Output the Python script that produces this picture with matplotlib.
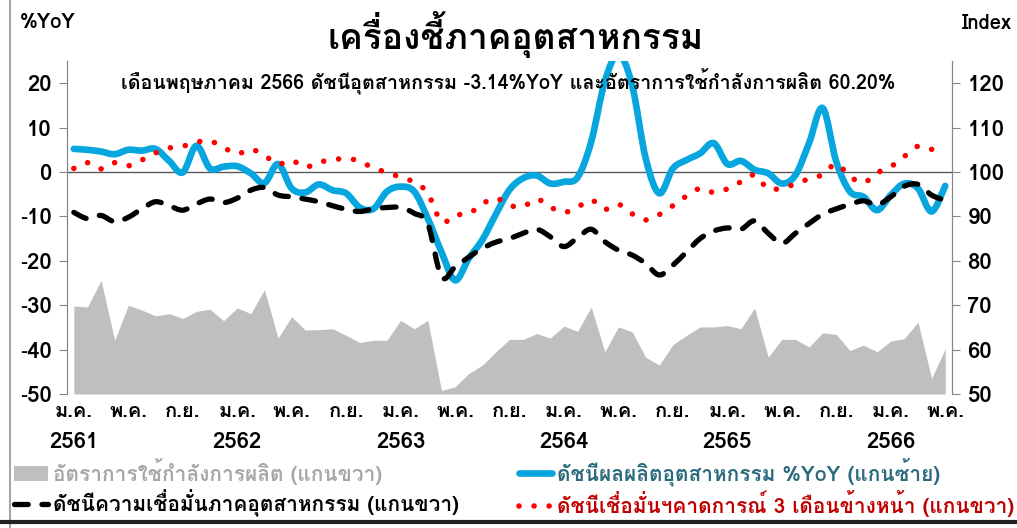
#!/usr/bin/env python3
# -*- coding: utf-8 -*-
"""
Thai industrial indicators chart (Jan 2561 - May 2566).
Left axis: industrial production index %YoY, right axis: index levels.
"""

import matplotlib
matplotlib.use('Agg')
import matplotlib.pyplot as plt
from matplotlib.lines import Line2D
from matplotlib.patches import Patch, PathPatch
from matplotlib.path import Path

# ---- data (monthly, ม.ค. 2561 .. พ.ค. 2566) ----
ipi_yoy = [5.2, 5.0, 4.6, 4.0, 5.0, 4.8, 5.2, 2.5, -0.1, 5.9, 0.8, 1.2,
           1.3, -0.3, -2.5, 1.8, -3.7, -4.6, -2.8, -4.1, -4.8, -8.0, -8.3, -4.4,
           -3.3, -4.4, -10.5, -18.0, -24.4, -19.5, -15.3, -9.5, -4.0, -1.4, -0.8, -2.6,
           -2.2, -1.2, 6.8, 20.4, 26.5, 19.6, 3.1, -4.8, 0.8, 2.7, 4.2, 6.5,
           1.8, 2.5, 0.5, -0.3, -2.6, -0.7, 6.5, 14.4, 2.3, -4.4, -5.6, -8.6,
           -5.2, -2.6, -3.7, -8.9, -3.14]

tisi_ci = [90.9, 89.5, 90.2, 88.8, 89.8, 91.7, 93.3, 92.4, 91.4, 92.8, 93.9, 93.1,
           94.1, 95.9, 96.5, 94.8, 94.4, 93.9, 93.3, 92.4, 91.6, 91.1, 91.7, 92.0,
           92.0, 90.7, 88.3, 76.4, 78.6, 80.8, 82.8, 84.2, 85.0, 86.2, 87.1, 85.4,
           83.2, 85.2, 87.1, 84.3, 82.4, 81.3, 79.4, 76.8, 79.0, 82.0, 85.0, 86.7,
           87.4, 87.1, 89.0, 86.2, 83.9, 86.2, 88.4, 90.5, 91.7, 92.7, 93.5, 92.6,
           94.4, 96.8, 97.2, 94.8, 93.6]

tisi_expect = [100.8, 102.1, 100.7, 102.1, 101.4, 102.7, 104.3, 105.4, 105.8, 106.7, 107.0, 105.5,
               104.1, 105.1, 103.7, 101.8, 102.6, 101.1, 102.2, 102.7, 103.1, 102.4, 100.9, 99.9,
               98.8, 97.7, 95.2, 88.8, 90.3, 90.6, 92.8, 94.1, 92.5, 92.2, 93.9, 92.1,
               90.9, 92.1, 93.7, 91.6, 92.7, 90.6, 89.2, 90.4, 92.4, 94.6, 96.3, 95.4,
               96.2, 97.8, 99.3, 96.2, 96.4, 97.3, 98.5, 99.4, 101.8, 99.0, 97.6, 99.8,
               101.2, 103.5, 105.8, 105.1, 104.1]

cap_util = [69.8, 69.6, 75.6, 62.1, 70.0, 68.9, 67.6, 68.1, 67.0, 68.6, 69.1, 66.5,
            69.4, 68.1, 73.5, 62.6, 67.4, 64.4, 64.5, 64.7, 63.2, 61.6, 62.1, 62.1,
            66.6, 64.7, 66.6, 50.8, 51.6, 54.6, 56.5, 59.5, 62.3, 62.3, 63.6, 62.6,
            65.3, 64.1, 69.6, 59.5, 65.1, 64.0, 58.3, 56.5, 61.1, 63.2, 65.1, 65.1,
            65.4, 64.7, 69.4, 58.3, 62.3, 62.3, 60.6, 63.8, 63.4, 59.8, 61.0, 59.5,
            61.9, 62.5, 66.2, 53.5, 60.2]

month_names = ['ม.ค.', 'พ.ค.', 'ก.ย.']
years = ['2561', '2562', '2563', '2564', '2565', '2566']

title = 'เครื่องชี้ภาคอุตสาหกรรม'
subtitle = 'เดือนพฤษภาคม 2566 ดัชนีอุตสาหกรรม -3.14%YoY และอัตราการใช้กำลังการผลิต 60.20%'
legend_left = ['อัตราการใช้กำลังการผลิต (แกนขวา)',
               'ดัชนีความเชื่อมั่นภาคอุตสาหกรรม (แกนขวา)']
legend_right = ['ดัชนีผลผลิตอุตสาหกรรม %YoY (แกนซ้าย)',
                'ดัชนีเชื่อมั่นฯคาดการณ์ 3 เดือนข้างหน้า (แกนขวา)']

BLUE = '#07A6DE'
RED = '#FF0000'
GRAY = '#BFBFBF'
DASH = (2.6, 2.6)   # black dashed line, in linewidths
DOTS = (0.01, 2.7)  # red round-dot line

# Loma is the Tahoma look-alike with Thai glyphs
plt.rcParams['font.family'] = ['Loma', 'Noto Sans Thai', 'DejaVu Sans']
plt.rcParams['font.weight'] = 'bold'


def smooth_path(xs, ys):
    """Excel-like smoothed line: cubic Bezier through every data point."""
    verts = [(xs[0], ys[0])]
    codes = [Path.MOVETO]
    n = len(xs)
    for i in range(n - 1):
        x0, y0 = (xs[i - 1], ys[i - 1]) if i > 0 else (xs[i], ys[i])
        x3, y3 = (xs[i + 2], ys[i + 2]) if i + 2 < n else (xs[i + 1], ys[i + 1])
        c1 = (xs[i] + (xs[i + 1] - x0) / 6.0, ys[i] + (ys[i + 1] - y0) / 6.0)
        c2 = (xs[i + 1] - (x3 - xs[i]) / 6.0, ys[i + 1] - (y3 - ys[i]) / 6.0)
        verts += [c1, c2, (xs[i + 1], ys[i + 1])]
        codes += [Path.CURVE4] * 3
    return Path(verts, codes)


def add_curve(axis, xs, ys, **kw):
    patch = PathPatch(smooth_path(xs, ys), fill=False, capstyle='round',
                      joinstyle='round', **kw)
    axis.add_patch(patch)
    return patch


x = list(range(len(ipi_yoy)))

fig = plt.figure(figsize=(10.17, 5.28), dpi=100)
ax = fig.add_axes([0.0659, 0.2538, 0.8702, 0.6307])
ax2 = ax.twinx()

# right axis series
ax2.fill_between(x, 50, cap_util, color=GRAY, lw=0, zorder=1)
add_curve(ax2, x, tisi_ci, edgecolor='black', lw=3.8,
          linestyle=(0, DASH), zorder=3)
add_curve(ax2, x, tisi_expect, edgecolor=RED, lw=4.0,
          linestyle=(0, DOTS), zorder=4)

# left axis series
ax.axhline(0, color='#595959', lw=1.0, zorder=1)
add_curve(ax, x, ipi_yoy, edgecolor=BLUE, lw=4.8, zorder=2)

ax.set_xlim(-0.5, len(x) - 0.5)
ax.set_ylim(-50, 25)
ax2.set_ylim(50, 125)
ax.set_yticks(range(-50, 21, 10))
ax2.set_yticks(range(50, 121, 10))

# month labels every 4 months, year under each January
ticks = list(range(0, len(x), 4))
ax.set_xticks(ticks)
ax.set_xticklabels([month_names[k % 3] for k in range(len(ticks))],
                   fontsize=14.5, fontweight='bold')
ax.tick_params(axis='x', length=0, pad=6)
for k, yr in enumerate(years):
    ax.text(12 * k, -0.145, yr, transform=ax.get_xaxis_transform(),
            ha='center', va='center', fontsize=16, fontweight='bold')

for a in (ax, ax2):
    a.spines['top'].set_visible(False)
    a.spines['bottom'].set_visible(False)
    a.spines['left'].set_color('#868686')
    a.spines['right'].set_color('#868686')
    a.tick_params(axis='y', direction='out', length=6, color='#868686',
                  labelsize=16, pad=5)
    for lab in a.get_yticklabels():
        lab.set_fontweight('bold')

# titles
fig.text(0.507, 0.934, title, ha='center', va='center', fontsize=25.5, fontweight='bold')
fig.text(0.02, 0.958, '%YoY', ha='left', va='center', fontsize=14.5, fontweight='bold')
fig.text(0.995, 0.955, 'Index', ha='right', va='center', fontsize=14.5, fontweight='bold')
fig.text(0.5, 0.848, subtitle, ha='center', va='center', fontsize=14.2, fontweight='bold')

# legend, two columns as two legends
lprops = dict(frameon=False, handlelength=1.6, handletextpad=0.25,
              labelspacing=0.2, borderpad=0.1, borderaxespad=0.0,
              prop={'weight': 'bold', 'size': 15})
h_left = [Patch(facecolor=GRAY, edgecolor='none'),
          Line2D([], [], color='black', lw=3.8, dashes=DASH, dash_capstyle='round')]
h_right = [Line2D([], [], color=BLUE, lw=4.8, solid_capstyle='round'),
           Line2D([], [], color=RED, lw=4.0, dashes=DOTS, dash_capstyle='round')]
fig.legend(h_left, legend_left, loc='center left', bbox_to_anchor=(0.012, 0.077),
           labelcolor=['#A6A6A6', 'black'], **lprops)
fig.legend(h_right, legend_right, loc='center left', bbox_to_anchor=(0.508, 0.077),
           labelcolor=['#2B6A7C', '#C00000'], **lprops)

# chart frame edges
fig.add_artist(Line2D([0.0098, 0.0098], [0.0, 1.0], color='#A6A6A6', lw=1.5,
                      transform=fig.transFigure))
fig.add_artist(Line2D([0.0, 1.0], [0.012, 0.012], color='#222222', lw=3.0,
                      transform=fig.transFigure))

fig.savefig('out.png', dpi=100)
